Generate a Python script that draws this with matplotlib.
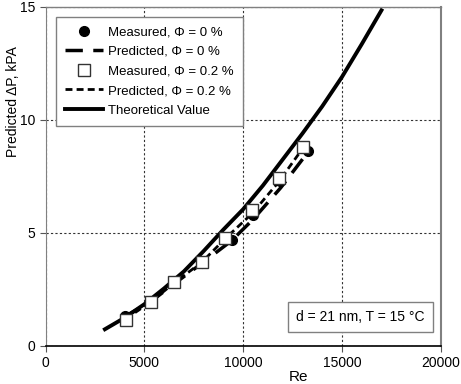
import matplotlib
matplotlib.use('Agg')
import matplotlib.pyplot as plt

plt.rcParams['font.family'] = ['Liberation Sans', 'DejaVu Sans']

# --- data ---
re_theory = [3000, 4000, 5000, 6000, 7000, 8000, 9000, 10000, 11000, 12000, 13000, 14000, 15000, 16000, 17000]
dp_theory = [0.74, 1.25, 1.85, 2.55, 3.3, 4.2, 5.15, 6.05, 7.1, 8.25, 9.4, 10.6, 11.9, 13.35, 14.85]

re_meas0 = [4000, 5300, 6500, 7900, 9430, 10520, 11850, 13260]
dp_meas0 = [1.34, 1.98, 2.82, 3.68, 4.69, 5.8, 7.3, 8.64]

re_meas02 = [4060, 5320, 6520, 7900, 9090, 10440, 11790, 13020]
dp_meas02 = [1.15, 1.96, 2.85, 3.73, 4.77, 6.02, 7.42, 8.82]

re_pred0 = [4000, 5300, 6500, 7900, 9400, 10500, 11900, 13300]
dp_pred0 = [1.3, 1.95, 2.75, 3.65, 4.65, 5.6, 7.0, 8.6]

re_pred02 = [4060, 5320, 6520, 7900, 9090, 10440, 11790, 13020]
dp_pred02 = [1.2, 1.95, 2.8, 3.7, 4.75, 5.85, 7.25, 8.75]

fig = plt.figure(figsize=(4.61, 3.84), dpi=100)
ax = fig.add_axes([0.099, 0.099, 0.857, 0.883])

ax.plot(re_meas0, dp_meas0, 'o', color='black', markersize=7, label='Measured, \u03a6 = 0 %', zorder=3)
ax.plot(re_pred0, dp_pred0, color='black', lw=2.5, dashes=(5, 3), label='Predicted, \u03a6 = 0 %', zorder=2)
ax.plot(re_meas02, dp_meas02, 's', mfc='white', mec='#333333', mew=1, markersize=8,
        label='Measured, \u03a6 = 0.2 %', zorder=4)
ax.plot(re_pred02, dp_pred02, color='black', lw=2, dashes=(2.5, 1.5), label='Predicted, \u03a6 = 0.2 %', zorder=2)
ax.plot(re_theory, dp_theory, color='black', lw=2.8, label='Theoretical Value', zorder=2)

ax.set_xlim(0, 20000)
ax.set_ylim(0, 15)
ax.set_xticks([0, 5000, 10000, 15000, 20000])
ax.set_yticks([0, 5, 10, 15])
ax.grid(True, color='#333333', linestyle=(0, (2, 2)), linewidth=0.8)
ax.tick_params(labelsize=10, length=4, color='#555555')

for side in ['top', 'right', 'left']:
    ax.spines[side].set_color('#808080')
ax.spines['top'].set_linewidth(1)
ax.spines['right'].set_linewidth(1.5)
ax.spines['bottom'].set_color('black')
ax.spines['bottom'].set_linewidth(1.2)

ax.set_xlabel('Re', fontsize=11)
ax.xaxis.set_label_coords(0.64, -0.07)
ax.set_ylabel('Predicted \u0394P, kPA', fontsize=10)
ax.yaxis.set_label_coords(-0.065, 0.72)

leg = ax.legend(loc='upper left', bbox_to_anchor=(0.026, 0.971), borderaxespad=0,
                fancybox=False, edgecolor='#808080', framealpha=1, fontsize=9.5,
                handlelength=2.9, handletextpad=0.35, labelspacing=0.56,
                borderpad=0.7)
leg.get_frame().set_linewidth(1)

ax.text(15930, 1.28, 'd = 21 nm, T = 15 \u00b0C', fontsize=10, ha='center', va='center',
        bbox=dict(boxstyle='square,pad=0.6', fc='white', ec='#808080', lw=1))

fig.savefig('out.png', dpi=100)
